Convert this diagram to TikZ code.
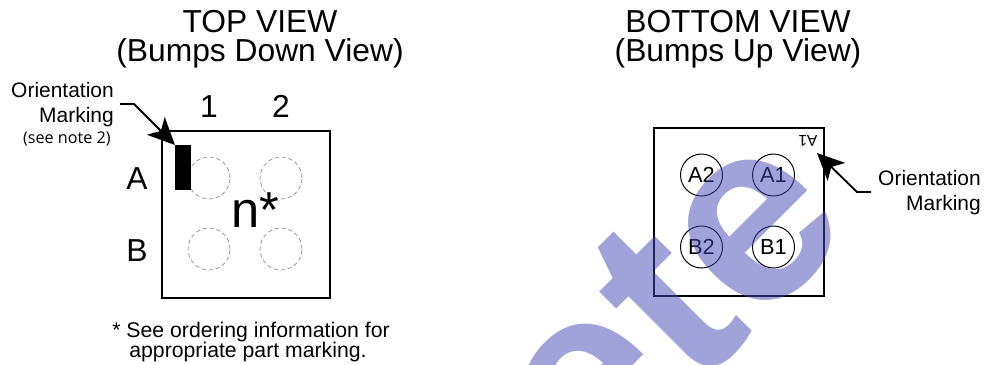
\documentclass[tikz,border=0pt]{standalone}
\usepackage{fontspec}
\setmainfont{Liberation Sans}
\newfontfamily\notefont{Open Sans}
\usetikzlibrary{arrows.meta,positioning}
\definecolor{stampblue}{RGB}{70,70,182}
\tikzset{
  lbl/.style={inner sep=0pt},
  title/.style={lbl,anchor=base,font=\fontsize{22.6}{24}\selectfont},
  callout/.style={lbl,anchor=base east,font=\fontsize{14.9}{16}\selectfont},
  ballmark/.style={circle,draw=black!45,densely dashed,line width=0.5pt,minimum size=42*0.025cm,inner sep=0pt},
  ball/.style={circle,draw,line width=0.7pt,minimum size=42*0.025cm,inner sep=0pt,font=\fontsize{15.5}{16}\selectfont},
  die/.style={draw,line width=1.2pt,inner sep=0pt,anchor=north west},
  pointer/.style={line width=1.3pt,-{Stealth[length=27*0.025cm,width=25*0.025cm,inset=7*0.025cm]}}
}
\begin{document}
\begin{tikzpicture}[x=0.025cm,y=-0.025cm]
\useasboundingbox (0, 0) rectangle (984, 364);

% top view
\node [title] (toptitle) at (260, 32) {TOP VIEW};
\node [title] (topsub) at (260, 61) {(Bumps Down View)};
\node [die,minimum width=168*0.025cm,minimum height=167*0.025cm] (topdie) at (161, 130) {};
\node [ballmark] (a1) at (209, 178) {};
\node [ballmark] (a2) at (281, 178) {};
\node [ballmark] (b1) at (209, 249) {};
\node [ballmark] (b2) at (281, 249) {};
\node [lbl,anchor=north west,fill=black,minimum width=16*0.025cm,minimum height=45*0.025cm] (markbar) at (175, 145) {};
\node [title] (col1) at (209, 117) {1};
\node [title] (col2) at (281, 117) {2};
\node [title] (rowa) at (137, 189) {A};
\node [title] (rowb) at (137, 261) {B};
\node [lbl,anchor=base,font=\fontsize{36}{40}\selectfont] (partmark) at (255, 227) {n*};
\node [callout] (orient) at (114, 97) {Orientation};
\node [callout] (marking) at (114, 122) {Marking};
\node [lbl,anchor=base east,font=\notefont\fontsize{11.5}{12}\selectfont] (seenote) at (111, 143) {(see note 2)};
\node [lbl,anchor=base,font=\fontsize{15.1}{16}\selectfont] (note1) at (251, 337) {* See ordering information for};
\node [lbl,anchor=base,font=\fontsize{15.1}{16}\selectfont] (note2) at (248, 357) {appropriate part marking.};
\coordinate (leadstart) at (120, 104);
\coordinate (leadbend) at (134, 104);
\draw [pointer] (leadstart) -- (leadbend) -- (markbar.north west);

% bottom view
\node [title] (bottitle) at (738, 32) {BOTTOM VIEW};
\node [title] (botsub) at (738, 61) {(Bumps Up View)};
\node [die,minimum width=170*0.025cm,minimum height=168*0.025cm] (botdie) at (653, 127) {};
\node [ball] (pa2) at (701.5, 175) {A2};
\node [ball] (pa1) at (773.5, 175) {A1};
\node [ball] (pb2) at (701.5, 247) {B2};
\node [ball] (pb1) at (773.5, 247) {B1};
\node [lbl,rotate=180,font=\fontsize{11}{14}\selectfont] (flipmark) at (808, 141) {A1};
\node [callout] (orient2) at (981, 185) {Orientation};
\node [callout] (marking2) at (981, 210) {Marking};
\coordinate (tipmark) at (817, 153);
\coordinate (lead2start) at (871, 192);
\coordinate (lead2bend) at (857, 192);
\draw [pointer] (lead2start) -- (lead2bend) -- (tipmark);

% stamp across the sheet
\begin{scope}
\clip (0, 0) rectangle (984, 364);
\node [lbl,anchor=base east,rotate=45,text=stampblue,opacity=0.5,font=\bfseries\fontsize{185}{190}\selectfont] (stamp) at (858, 228) {ete};
\end{scope}
\end{tikzpicture}
\end{document}
